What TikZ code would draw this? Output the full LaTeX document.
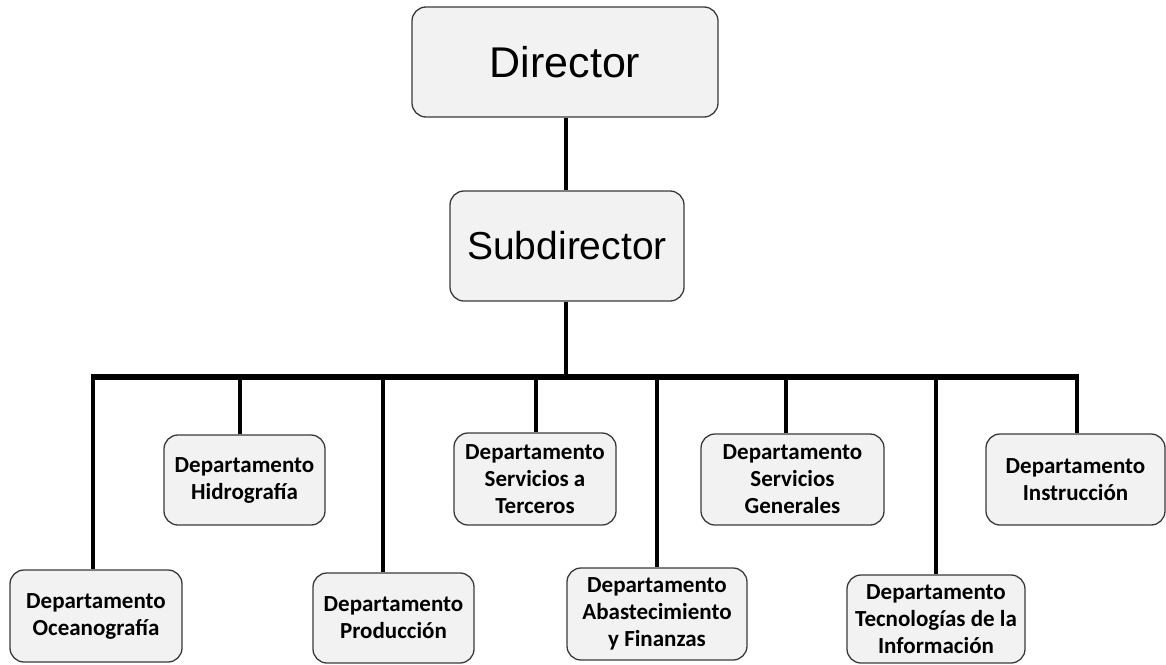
\documentclass[tikz,border=0pt]{standalone}
\usepackage{fontspec}
\newfontfamily\arialf{Liberation Sans}
\newfontfamily\calf{Carlito}
\definecolor{boxfill}{HTML}{F2F2F2}
\definecolor{boxline}{HTML}{3A3A3A}
\begin{document}
\begin{tikzpicture}[x=1pt,y=-1pt,
  box/.style={draw=boxline, line width=1.3pt, fill=boxfill, rounded corners=14pt, inner sep=0pt, align=center},
  topbox/.style={box, minimum height=110pt},
  dept/.style={box, font=\calf\bfseries\fontsize{23}{27}\selectfont},
  conn/.style={line width=4pt, black},
  barline/.style={line width=5.5pt, black}]
\useasboundingbox (0,0) rectangle (1166,664);
\node[topbox, minimum width=306pt, font=\arialf\fontsize{43}{48}\selectfont] (dir) at (565,62) {Director};
\node[topbox, minimum width=234pt, font=\arialf\fontsize{39}{46}\selectfont] (sub) at (567,246) {Subdirector};

\node[dept, minimum width=172pt, minimum height=92pt] (ocean) at (96,616) {Departamento\\Oceanografía};
\node[dept, minimum width=161pt, minimum height=90pt] (hidro) at (244.5,480) {Departamento\\Hidrografía};
\node[dept, minimum width=161pt, minimum height=90pt] (prod) at (393.5,618) {Departamento\\Producción};
\node[dept, minimum width=162pt, minimum height=92pt] (terc) at (535,479) {Departamento\\Servicios a\\Terceros};
\node[dept, minimum width=180pt, minimum height=92pt] (abas) at (657,614) {Departamento\\Abastecimiento\\y Finanzas};
\node[dept, minimum width=183pt, minimum height=91pt] (gene) at (792.5,479.5) {Departamento\\Servicios\\Generales};
\node[dept, minimum width=178pt, minimum height=88pt] (tecn) at (936,619) {Departamento\\Tecnologías de la\\Información};
\node[dept, minimum width=179pt, minimum height=91pt] (instr) at (1075.5,479.5) {Departamento\\Instrucción};

\coordinate (bj) at (566,377);
\coordinate (d1) at (93,377);
\coordinate (d2) at (240,377);
\coordinate (d3) at (383,377);
\coordinate (d4) at (536,377);
\coordinate (d5) at (657,377);
\coordinate (d6) at (786,377);
\coordinate (d7) at (936,377);
\coordinate (d8) at (1077,377);

\draw[conn] (dir.south -| bj) -- (sub.north -| bj);
\draw[conn] (sub.south -| bj) -- (bj);
\draw[barline] ([xshift=-2pt]d1) -- ([xshift=2pt]d8);
\draw[conn] (d1) -- (d1 |- ocean.north);
\draw[conn] (d2) -- (d2 |- hidro.north);
\draw[conn] (d3) -- (d3 |- prod.north);
\draw[conn] (d4) -- (d4 |- terc.north);
\draw[conn] (d5) -- (d5 |- abas.north);
\draw[conn] (d6) -- (d6 |- gene.north);
\draw[conn] (d7) -- (d7 |- tecn.north);
\draw[conn] (d8) -- (d8 |- instr.north);
\end{tikzpicture}
\end{document}
